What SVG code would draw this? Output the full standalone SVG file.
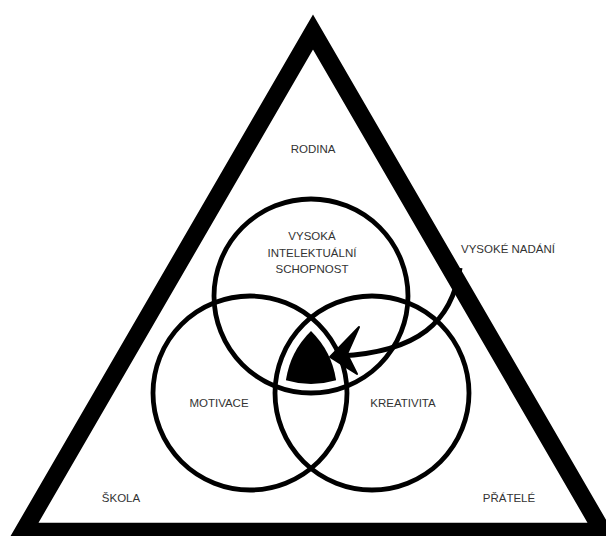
<svg xmlns="http://www.w3.org/2000/svg" width="606" height="536" viewBox="0 0 606 536">
<style>
.lbl{font-family:"Liberation Sans",Arial,sans-serif;font-size:11.5px;fill:#333;text-anchor:middle}
.circ{fill:none;stroke:#000;stroke-width:4.8}
</style>
<rect width="606" height="536" fill="#fff"/>
<g id="triangle">
<polygon points="313,32 23.3,531.5 602.7,531.5" fill="none" stroke="#000" stroke-width="17.5" stroke-linejoin="miter"/>
</g>
<g id="rodina"><text class="lbl" x="313" y="153">RODINA</text></g>
<g id="skola"><text class="lbl" x="121" y="502">ŠKOLA</text></g>
<g id="pratele"><text class="lbl" x="509" y="502">PŘÁTELÉ</text></g>
<g id="intelekt">
<circle class="circ" cx="311" cy="296" r="97"/>
<text class="lbl" x="312" y="240">VYSOKÁ</text>
<text class="lbl" x="312" y="257">INTELEKTUÁLNÍ</text>
<text class="lbl" x="312" y="273">SCHOPNOST</text>
</g>
<g id="motivace">
<circle class="circ" cx="250" cy="393" r="97"/>
<text class="lbl" x="219" y="407">MOTIVACE</text>
</g>
<g id="kreativita">
<circle class="circ" cx="372" cy="393" r="97"/>
<text class="lbl" x="403" y="407">KREATIVITA</text>
</g>
<g id="nadani-core">
<path d="M311,331 A87,87 0 0,0 285.9,380.35 A88,88 0 0,0 336.1,380.35 A87,87 0 0,0 311,331 Z" fill="#000"/>
</g>
<g id="nadani"><text class="lbl" x="508" y="253">VYSOKÉ NADÁNÍ</text></g>
<g id="connectors">
<path d="M460,268 C452,322 418,352 340,356" fill="none" stroke="#000" stroke-width="5"/>
<path d="M330,357 L359,327 L347,354 L357,374 Z" fill="#000" stroke="#000" stroke-width="2" stroke-linejoin="round"/>
</g>
</svg>
